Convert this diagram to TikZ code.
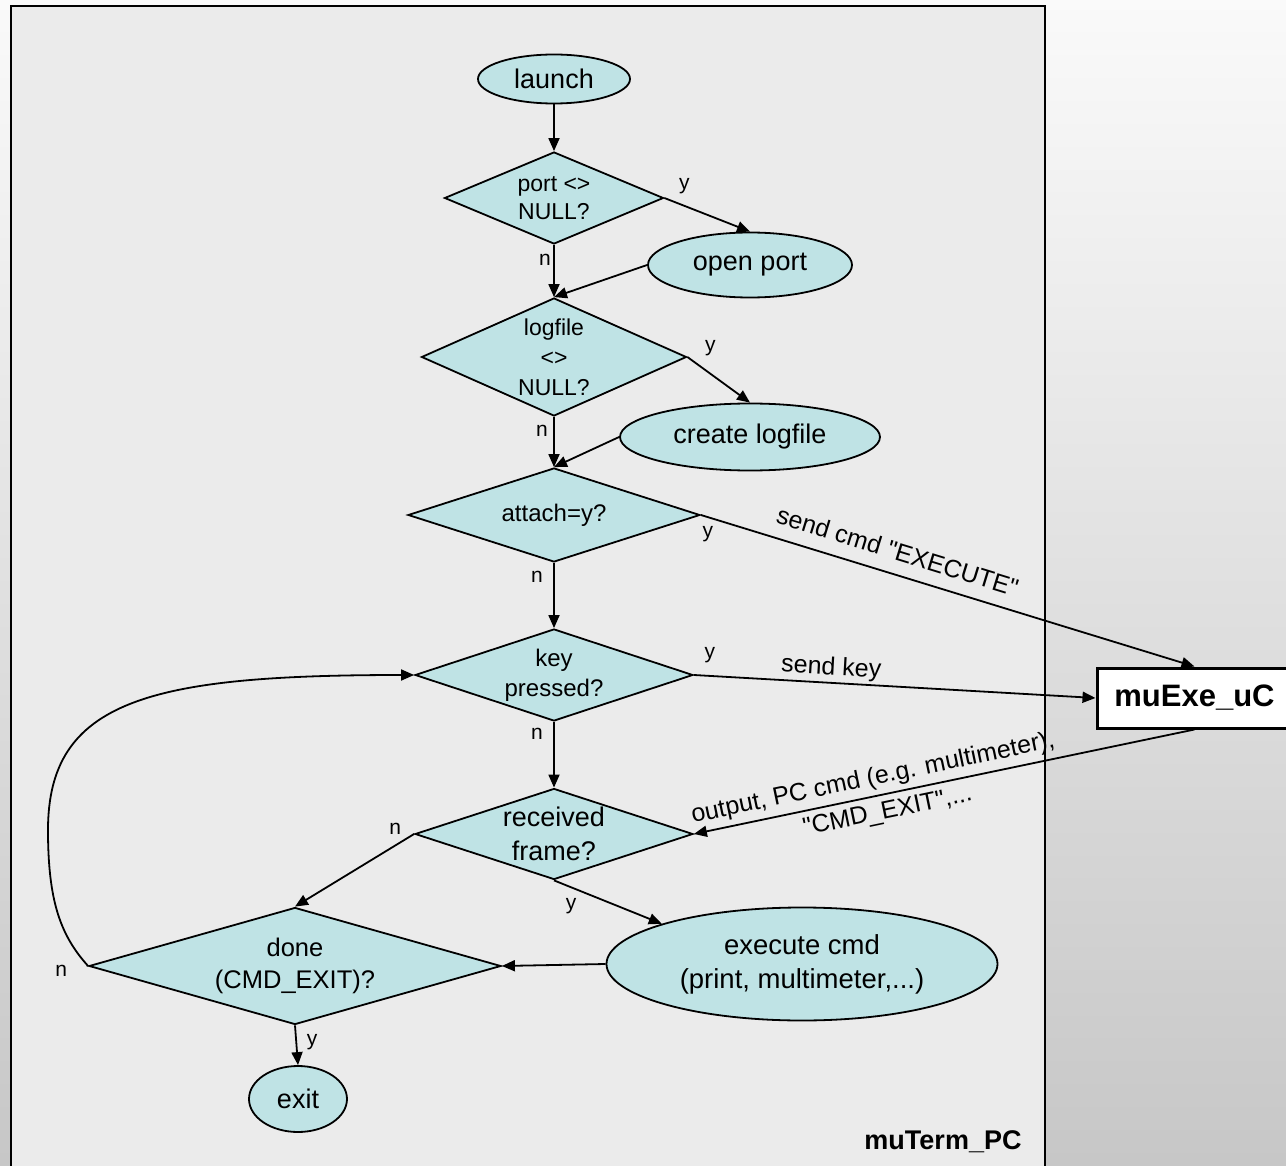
\documentclass[tikz,border=0pt]{standalone}
\usepackage{fontspec}
\setmainfont{Liberation Sans}[Ligatures=TeXOff]
\usetikzlibrary{shapes.geometric,arrows.meta,calc}
\definecolor{shapefill}{HTML}{BFE3E5}
\definecolor{framefill}{HTML}{EBEBEB}
\newcommand{\dqm}{\symbol{34}}
\begin{document}
\begin{tikzpicture}[x=1pt,y=-1pt,
  base/.style={draw=black, line width=1.8pt, fill=shapefill, inner sep=0pt, align=center, text=black},
  dia/.style={base, shape=diamond},
  ell/.style={base, shape=ellipse},
  arr/.style={line width=1.8pt, -{Triangle[length=13pt,width=11pt]}},
  lbl/.style={font=\fontsize{21}{24}\selectfont, inner sep=0pt},
  elbl/.style={font=\fontsize{25}{30}\selectfont, sloped},
]
\useasboundingbox (0,0) rectangle (1286,1166);
\clip (0,0) rectangle (1286,1166);
\shade[top color=white!96!gray, bottom color=black!22!white] (0,0) rectangle (1286,1166);
\draw[line width=2.5pt, fill=framefill] (11,6) rectangle (1045,1195);

% nodes
\node[ell, minimum width=152pt, minimum height=49pt, font=\fontsize{27}{32}\selectfont] (launch) at (554,79) {launch};
\node[dia, aspect=2.4, minimum width=219pt, minimum height=92pt, font=\fontsize{23}{28}\selectfont] (port) at (554,198) {port <>\\NULL?};
\node[ell, minimum width=204pt, minimum height=65pt, font=\fontsize{27}{32}\selectfont] (oport) at (750,265) {open port};
\node[dia, aspect=2.25, minimum width=265pt, minimum height=118pt, font=\fontsize{23}{30}\selectfont] (logf) at (554,357) {logfile\\<>\\NULL?};
\node[ell, minimum width=260pt, minimum height=67pt, font=\fontsize{27}{32}\selectfont] (clog) at (750,437) {create logfile};
\node[dia, aspect=3.1, minimum width=292pt, minimum height=94pt, font=\fontsize{24}{29}\selectfont] (attach) at (554,515) {attach=y?};
\node[dia, aspect=3.0, minimum width=278pt, minimum height=92pt, font=\fontsize{24}{30}\selectfont] (key) at (554,675) {key\\pressed?};
\node[dia, aspect=3.05, minimum width=278pt, minimum height=91pt, font=\fontsize{27}{34}\selectfont] (recv) at (554,834) {received\\frame?};
\node[dia, aspect=3.5, minimum width=412pt, minimum height=117pt, font=\fontsize{25.5}{32}\selectfont] (done) at (295,966) {done\\(CMD\_EXIT)?};
\node[ell, minimum width=391pt, minimum height=113pt, font=\fontsize{27.5}{34}\selectfont] (exec) at (802,964) {execute cmd\\(print, multimeter,...)};
\node[ell, minimum width=98pt, minimum height=66pt, font=\fontsize{27}{32}\selectfont] (exit) at (298,1099) {exit};
\node[draw=black, line width=3pt, fill=white, minimum width=195pt, minimum height=60pt, inner sep=0pt, font=\bfseries\fontsize{31}{36}\selectfont] (uc) at (1194.5,698) {muExe\_uC};
\node[font=\bfseries\fontsize{27}{32}\selectfont] (pc) at (943,1142) {muTerm\_PC};

% connectors
\draw[arr] (launch) -- (port);
\draw[arr] (port.east) -- (oport.north);
\draw[arr] (port.south) -- (logf.north);
\draw[arr] (oport.west) -- (logf.north);
\draw[arr] (logf.east) -- (clog.north);
\draw[arr] (logf.south) -- (attach.north);
\draw[arr] (clog.west) -- (attach.north);
\draw[arr] (attach.south) -- (key.north);
\draw[arr] (attach.east) -- node[elbl, above, pos=0.385, inner sep=13pt] {send cmd \dqm EXECUTE\dqm} (uc.north);
\draw[arr] (key.east) -- node[elbl, above, pos=0.34, inner sep=2pt] {send key} (uc.west);
\draw[arr] (uc.south) -- node[elbl, above, pos=0.635, inner sep=5pt] {output, PC cmd (e.g. multimeter),}
  node[elbl, below, pos=0.62, inner sep=6pt] {\dqm CMD\_EXIT\dqm,...} (recv.east);
\draw[arr] (key.south) -- (recv.north);
\draw[arr] (recv.west) -- (done.north);
\draw[arr] (recv.south) -- (exec.164);
\draw[arr] (exec.west) -- (done.east);
\draw[arr] (done.south) -- (exit.north);
\draw[arr] (done.west) .. controls (60,935) and (48,900) .. (48,830) .. controls (48,700) and (150,675) .. (key.west);

% y/n labels
\node[lbl] (l1) at ($(port.east)+(20,-12)$) {y};
\node[lbl] (l2) at ($(port.south)+(-9,15)$) {n};
\node[lbl] (l3) at ($(logf.east)+(23,-9)$) {y};
\node[lbl] (l4) at ($(logf.south)+(-12,14)$) {n};
\node[lbl] (l5) at ($(attach.east)+(7,19)$) {y};
\node[lbl] (l6) at ($(attach.south)+(-17,14)$) {n};
\node[lbl] (l7) at ($(key.east)+(16,-20)$) {y};
\node[lbl] (l8) at ($(key.south)+(-17,12)$) {n};
\node[lbl] (l9) at ($(recv.west)+(-19,-5)$) {n};
\node[lbl] (l10) at ($(recv.south)+(17,26)$) {y};
\node[lbl] (l11) at ($(done.south)+(17,17)$) {y};
\node[lbl] (l12) at ($(done.west)+(-27,5)$) {n};
\end{tikzpicture}
\end{document}
